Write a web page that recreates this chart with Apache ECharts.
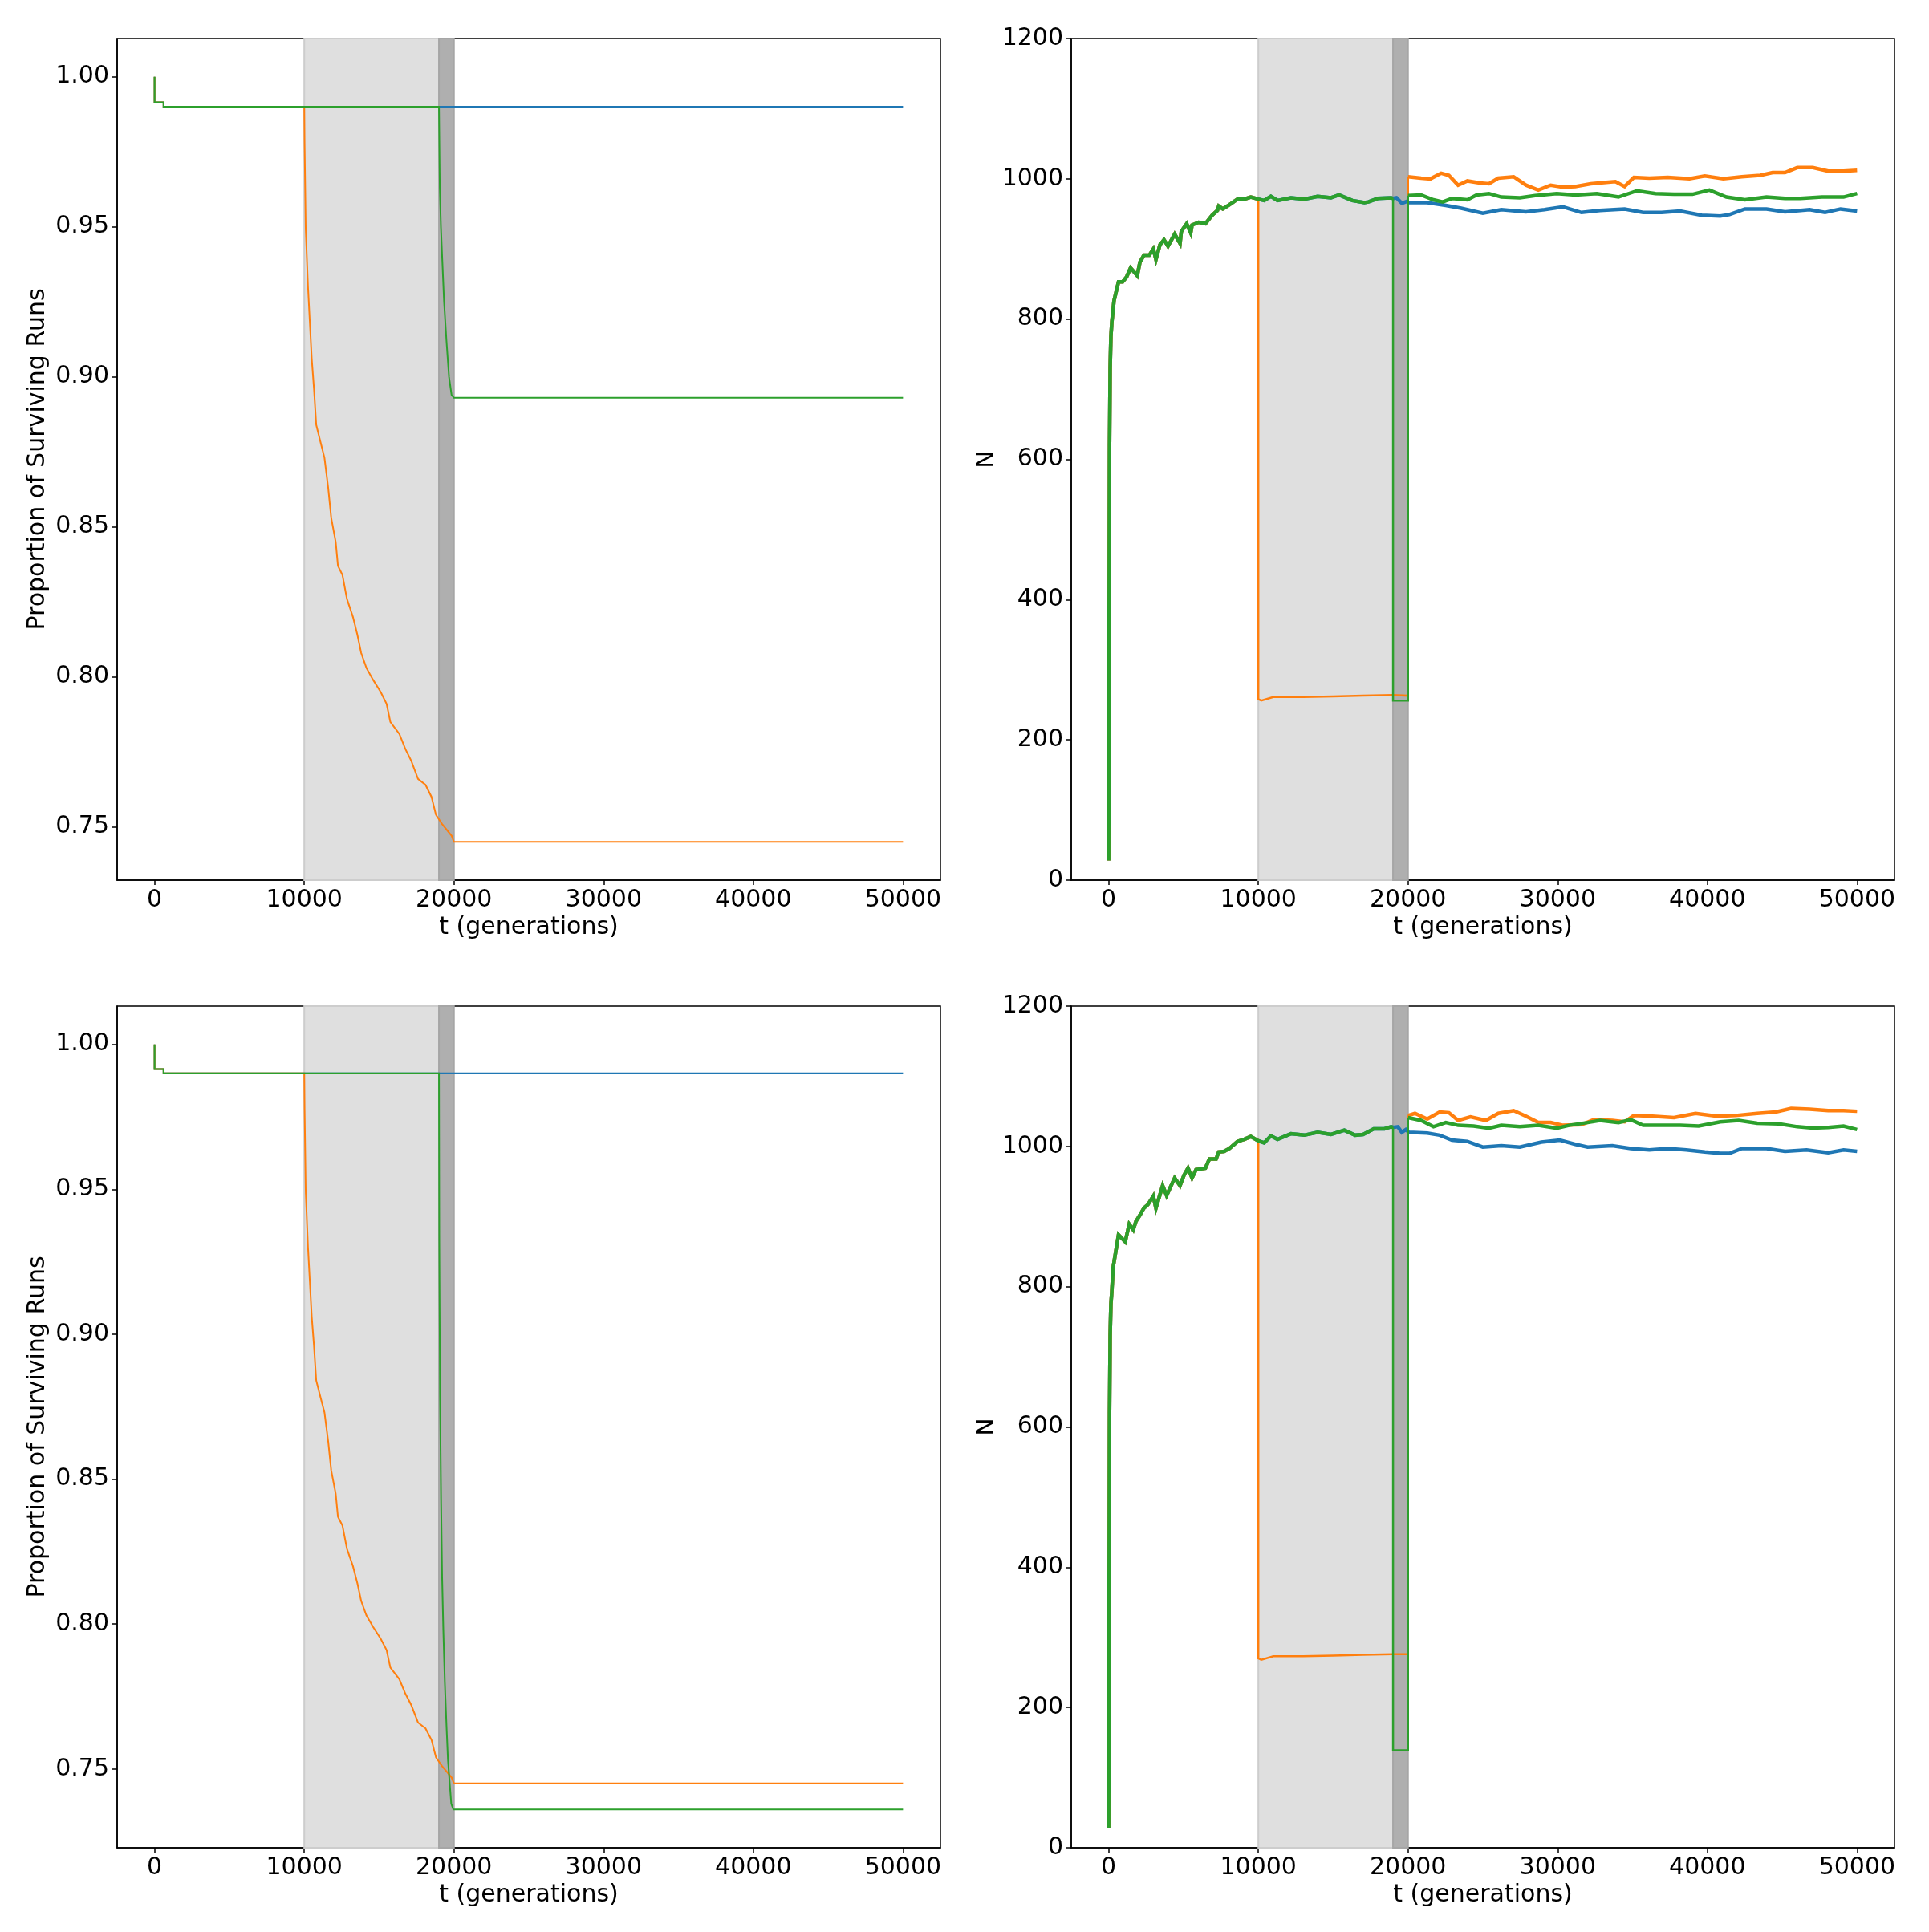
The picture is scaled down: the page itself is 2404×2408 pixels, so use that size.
<!DOCTYPE html>
<html>
<head>
<meta charset="utf-8">
<script src="https://cdn.jsdelivr.net/npm/echarts@6/dist/echarts.min.js"></script>
<style>html,body{margin:0;padding:0;background:#fff;}#c{width:2404px;height:2408px;}</style>
</head>
<body>
<div id="c"></div>
<script>
// ---------- tick labels ----------
const xTicks = [0, 10000, 20000, 30000, 40000, 50000];
const propTicks = [0.75, 0.80, 0.85, 0.90, 0.95, 1.00];
const nTicks = [0, 200, 400, 600, 800, 1000, 1200];

// ---------- left panels: proportion of surviving runs ----------
const propEarly = [[0, 1.0], [0, 0.9915], [600, 0.9915], [600, 0.99]];
const propBlueTail = [[50000, 0.99]];
const propOrange = [[10000, 0.99], [10020, 0.978], [10100, 0.949], [10250, 0.930], [10500, 0.906], [10650, 0.896], [10800, 0.884], [11100, 0.878], [11350, 0.873], [11600, 0.863], [11800, 0.853], [12100, 0.845], [12250, 0.837], [12550, 0.834], [12850, 0.826], [13250, 0.820], [13550, 0.814], [13800, 0.808], [14150, 0.803], [14600, 0.799], [15100, 0.795], [15500, 0.791], [15750, 0.785], [16350, 0.781], [16750, 0.776], [17150, 0.772], [17600, 0.766], [18100, 0.764], [18500, 0.760], [18800, 0.754], [19200, 0.751], [19850, 0.747], [20000, 0.745], [50000, 0.745]];
const propGreenTop = [[19000, 0.99], [19055, 0.963], [19130, 0.950], [19220, 0.939], [19340, 0.925], [19500, 0.912], [19670, 0.900], [19840, 0.894], [20000, 0.893], [50000, 0.893]];
const propGreenBottom = [[19000, 0.99], [19020, 0.933], [19070, 0.879], [19140, 0.843], [19210, 0.816], [19290, 0.798], [19390, 0.780], [19500, 0.765], [19600, 0.753], [19730, 0.744], [19820, 0.738], [19960, 0.736], [50000, 0.736]];

// ---------- right top: N ----------
const nBaseTop = [[0, 28], [30, 350], [60, 620], [100, 730], [150, 775], [214, 796], [357, 826], [660, 853], [928, 853], [1196, 860], [1464, 873], [1910, 862], [2089, 881], [2356, 891], [2714, 891], [2982, 900], [3160, 885], [3428, 906], [3696, 913], [3964, 904], [4410, 921], [4767, 908], [4856, 925], [5213, 936], [5481, 923], [5570, 934], [6016, 938], [6463, 936], [6909, 948], [7266, 955], [7356, 961], [7624, 957], [8070, 963], [8606, 971], [9052, 971], [9498, 974], [10000, 971]];
const nBaseTop2 = [[10390, 969], [10837, 975], [11283, 969], [12176, 973], [13069, 971], [13961, 975], [14854, 973], [15390, 977], [16283, 969], [17086, 966], [17354, 967], [17980, 972], [18870, 973], [19000, 972]];
const nBlueTop = [[19230, 973], [19590, 965], [19940, 968], [20052, 966], [21288, 966], [22524, 962], [23554, 958], [24996, 951], [26232, 956], [27880, 953], [29116, 956], [30352, 960], [31588, 952], [32824, 955], [34472, 957], [35708, 952], [36944, 952], [38180, 954], [39622, 948], [40858, 947], [41476, 949], [42506, 957], [43948, 957], [45184, 953], [46832, 956], [47862, 952], [48892, 957], [50000, 954]];
const nOrangeTopMid = [[10000, 258], [10200, 256], [11000, 261], [13000, 261], [15000, 262], [17000, 263], [19000, 264], [20000, 263]];
const nOrangeTopPost = [[20000, 1003], [20052, 1003], [20876, 1001], [21494, 1000], [22215, 1008], [22730, 1005], [23348, 991], [23966, 997], [24790, 994], [25408, 993], [26026, 1001], [27056, 1003], [27880, 991], [28704, 984], [29528, 991], [30352, 988], [31176, 989], [32206, 993], [33236, 995], [33854, 996], [34472, 989], [35090, 1002], [36120, 1001], [37356, 1002], [38798, 1000], [39828, 1004], [41064, 1000], [42300, 1003], [43536, 1005], [44360, 1009], [45184, 1009], [46008, 1016], [47038, 1016], [48068, 1011], [49098, 1011], [50000, 1012]];
const nGreenTopMid = [[19000, 256], [20000, 256]];
const nGreenTopPost = [[20000, 976], [20052, 976], [20876, 977], [21700, 970], [22318, 967], [22936, 972], [23966, 970], [24584, 977], [25408, 979], [26232, 974], [27468, 973], [28498, 976], [29940, 979], [31176, 977], [32618, 979], [34060, 974], [35296, 983], [36532, 979], [37768, 978], [39004, 978], [40137, 984], [41270, 974], [42506, 970], [43948, 974], [45184, 972], [46214, 972], [47656, 974], [49098, 974], [50000, 979]];

// ---------- right bottom: N ----------
const nBaseBottom = [[0, 28], [30, 350], [60, 620], [100, 730], [150, 775], [214, 794], [303, 828], [482, 851], [660, 874], [928, 868], [1107, 864], [1375, 889], [1643, 881], [1821, 893], [2089, 902], [2356, 912], [2624, 917], [2982, 929], [3160, 912], [3606, 944], [3874, 930], [4410, 955], [4767, 944], [5035, 959], [5302, 969], [5570, 955], [5838, 967], [6463, 969], [6730, 982], [7177, 982], [7356, 992], [7713, 993], [8070, 997], [8606, 1007], [9052, 1010], [9498, 1014], [10000, 1008]];
const nBaseBottom2 = [[10390, 1005], [10837, 1015], [11283, 1010], [12176, 1018], [13069, 1016], [13961, 1020], [14854, 1017], [15747, 1023], [16461, 1016], [16997, 1017], [17711, 1025], [18425, 1025], [18871, 1028], [19000, 1027]];
const nBlueBottom = [[19318, 1028], [19586, 1020], [19854, 1024], [20052, 1020], [21288, 1019], [22112, 1016], [22936, 1009], [23966, 1007], [24996, 999], [26232, 1001], [27468, 999], [28910, 1006], [30146, 1009], [31176, 1003], [32000, 999], [33648, 1001], [34884, 997], [36120, 995], [37356, 997], [38592, 995], [39828, 992], [40858, 990], [41476, 990], [42300, 997], [43948, 997], [45184, 993], [46626, 995], [48068, 991], [49098, 995], [50000, 993]];
const nOrangeBottomMid = [[10000, 270], [10200, 268], [11000, 273], [13000, 273], [15000, 274], [17000, 275], [19000, 276], [20000, 276]];
const nOrangeBottomPost = [[20000, 1044], [20052, 1044], [20464, 1047], [21288, 1039], [22112, 1049], [22730, 1048], [23348, 1037], [24172, 1042], [25202, 1037], [26026, 1047], [27056, 1051], [27880, 1043], [28704, 1034], [29528, 1034], [30352, 1030], [31588, 1031], [32412, 1038], [33648, 1037], [34472, 1035], [35090, 1044], [36326, 1043], [37768, 1041], [39210, 1047], [40652, 1043], [41888, 1044], [43330, 1047], [44566, 1049], [45596, 1054], [46832, 1053], [48068, 1051], [49098, 1051], [50000, 1050]];
const nGreenBottomMid = [[19000, 139], [20000, 139]];
const nGreenBottomPost = [[20000, 1041], [20052, 1041], [20876, 1037], [21700, 1028], [22524, 1034], [23348, 1030], [24378, 1029], [25408, 1026], [26232, 1030], [27468, 1028], [28704, 1030], [29940, 1026], [30764, 1030], [32000, 1034], [32824, 1037], [34060, 1034], [34884, 1038], [35708, 1030], [36944, 1030], [38180, 1030], [39416, 1029], [40858, 1035], [42094, 1037], [43330, 1033], [44772, 1032], [46008, 1028], [47038, 1026], [48068, 1027], [49098, 1029], [50000, 1024]];

// ---------- build ----------
const C_BLUE = '#1f77b4', C_ORANGE = '#ff7f0e', C_GREEN = '#2ca02c';
const FONT = 'DejaVu Sans';
const FS = 30;
const THICK = 4.5, THIN = 2.5;

const grids = [
  {left: 146, top: 48, width: 1026, height: 1049},
  {left: 1335, top: 48, width: 1026, height: 1049},
  {left: 146, top: 1254, width: 1026, height: 1049},
  {left: 1335, top: 1254, width: 1026, height: 1049}
].map(g => Object.assign(g, {show: true, borderColor: '#000', borderWidth: 1.5, backgroundColor: 'transparent'}));

function xAxis(i) {
  return {
    type: 'value', gridIndex: i, min: -2500, max: 52500,
    name: 't (generations)', nameLocation: 'middle', nameGap: 44,
    nameTextStyle: {fontFamily: FONT, fontSize: FS, color: '#000'},
    axisLine: {show: true, onZero: false, lineStyle: {color: '#000', width: 1.5}},
    axisTick: {show: true, length: 6, lineStyle: {color: '#000', width: 1.5}, customValues: xTicks},
    axisLabel: {fontFamily: FONT, fontSize: FS, color: '#000', margin: 10, customValues: xTicks, formatter: v => String(v)},
    splitLine: {show: false}
  };
}
function yProp(i, mn, mx) {
  return {
    type: 'value', gridIndex: i, min: mn, max: mx,
    name: 'Proportion of Surviving Runs', nameLocation: 'middle', nameGap: 84,
    nameTextStyle: {fontFamily: FONT, fontSize: FS, color: '#000'},
    axisLine: {show: true, onZero: false, lineStyle: {color: '#000', width: 1.5}},
    axisTick: {show: true, length: 6, lineStyle: {color: '#000', width: 1.5}, customValues: propTicks},
    axisLabel: {fontFamily: FONT, fontSize: FS, color: '#000', margin: 10, customValues: propTicks, formatter: v => v.toFixed(2)},
    splitLine: {show: false}
  };
}
function yN(i) {
  return {
    type: 'value', gridIndex: i, min: 0, max: 1200, interval: 200,
    name: 'N', nameLocation: 'middle', nameGap: 90,
    nameTextStyle: {fontFamily: FONT, fontSize: FS, color: '#000'},
    axisLine: {show: true, onZero: false, lineStyle: {color: '#000', width: 1.5}},
    axisTick: {show: true, length: 6, lineStyle: {color: '#000', width: 1.5}},
    axisLabel: {fontFamily: FONT, fontSize: FS, color: '#000', margin: 10, formatter: v => String(v)},
    splitLine: {show: false}
  };
}

function bands(i) {
  return {
    type: 'line', xAxisIndex: i, yAxisIndex: i, data: [], silent: true, z: 1,
    markArea: {
      silent: true,
      data: [
        [{xAxis: 10000, itemStyle: {color: '#dfdfdf', borderColor: '#cdcdcd', borderWidth: 2}}, {xAxis: 19000}],
        [{xAxis: 19000, itemStyle: {color: '#afafaf', borderColor: '#a6a6a6', borderWidth: 2}}, {xAxis: 20000}]
      ]
    }
  };
}
function line(i, data, color, width) {
  return {
    type: 'line', xAxisIndex: i, yAxisIndex: i, data: data, showSymbol: false, symbol: 'none',
    lineStyle: {color: color, width: width, join: 'miter'}, itemStyle: {color: color}, z: 3, silent: true, animation: false
  };
}
const last = a => a[a.length - 1];

const series = [];
// top-left
series.push(bands(0));
series.push(line(0, propEarly.concat(propBlueTail), C_BLUE, 2));
series.push(line(0, propEarly.concat([[10000, 0.99]], propOrange), C_ORANGE, 2));
series.push(line(0, propEarly.concat(propGreenTop), C_GREEN, 2));
// bottom-left
series.push(bands(2));
series.push(line(2, propEarly.concat(propBlueTail), C_BLUE, 2));
series.push(line(2, propEarly.concat([[10000, 0.99]], propOrange), C_ORANGE, 2));
series.push(line(2, propEarly.concat(propGreenBottom), C_GREEN, 2));

function nPanel(i, base, base2, blue, oMid, oPost, gMid, gPost) {
  series.push(bands(i));
  const full = base.concat(base2);
  // blue
  series.push(line(i, full.concat(blue), C_BLUE, THICK));
  // orange
  series.push(line(i, base, C_ORANGE, THICK));
  series.push(line(i, [last(base)].concat(oMid, [oPost[0]]), C_ORANGE, THIN));
  series.push(line(i, oPost, C_ORANGE, THICK));
  // green
  series.push(line(i, full, C_GREEN, THICK));
  series.push(line(i, [last(full)].concat(gMid, [gPost[0]]), C_GREEN, THIN));
  series.push(line(i, gPost, C_GREEN, THICK));
}
nPanel(1, nBaseTop, nBaseTop2, nBlueTop, nOrangeTopMid, nOrangeTopPost, nGreenTopMid, nGreenTopPost);
nPanel(3, nBaseBottom, nBaseBottom2, nBlueBottom, nOrangeBottomMid, nOrangeBottomPost, nGreenBottomMid, nGreenBottomPost);

const chart = echarts.init(document.getElementById('c'), null, {renderer: 'canvas'});
chart.setOption({
  animation: false,
  backgroundColor: '#fff',
  grid: grids,
  xAxis: [xAxis(0), xAxis(1), xAxis(2), xAxis(3)],
  yAxis: [yProp(0, 0.73225, 1.01275), yN(1), yProp(2, 0.7228, 1.0132), yN(3)],
  series: series
});
</script>
</body>
</html>
